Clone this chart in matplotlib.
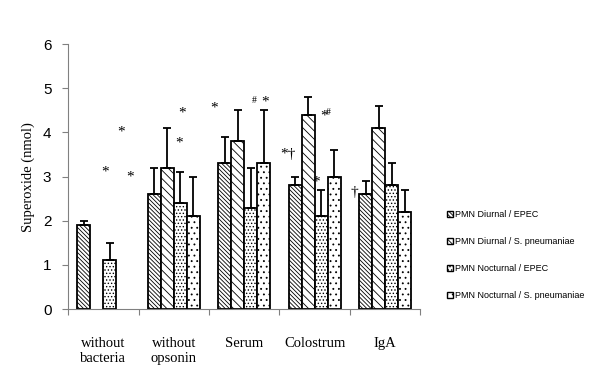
import numpy as np
import matplotlib.pyplot as plt
from matplotlib.patches import Patch

categories = ['without\nbacteria', 'without\nopsonin', 'Serum', 'Colostrum', 'IgA']
series = ['PMN Diurnal / EPEC', 'PMN Diurnal / S. pneumaniae',
          'PMN Nocturnal / EPEC', 'PMN Nocturnal / S. pneumaniae']
# nan = no bar in that group
values = [
    [1.9, 2.6, 3.3, 2.8, 2.6],
    [np.nan, 3.2, 3.8, 4.4, 4.1],
    [1.1, 2.4, 2.3, 2.1, 2.8],
    [np.nan, 2.1, 3.3, 3.0, 2.2],
]
errors = [
    [0.1, 0.6, 0.6, 0.2, 0.3],
    [np.nan, 0.9, 0.7, 0.4, 0.5],
    [0.4, 0.7, 0.9, 0.6, 0.5],
    [np.nan, 0.9, 1.2, 0.6, 0.5],
]
# significance marks: (x in category units, y value, text)
marks = [
    (0.52, 3.1, '*'), (0.75, 4.0, '*'), (0.88, 3.0, '*'),
    (1.58, 3.75, '*'), (1.62, 4.45, '*'),
    (2.07, 4.55, '*'), (2.65, 4.72, '#'), (2.8, 4.68, '*'),
    (3.12, 3.5, '*\u2020'), (3.63, 4.38, '*'), (3.7, 4.45, '#'),
    (3.52, 2.88, '*'), (4.07, 2.65, '\u2020'),
]
hatches = ['\\\\\\\\\\\\\\\\', '\\\\\\\\', '.....', '...']

plt.rcParams['hatch.linewidth'] = 0.6

fig = plt.figure(figsize=(5.97, 3.71), dpi=100)
ax = fig.add_axes([0.114, 0.167, 0.59, 0.714])

n = len(categories)
w = 0.185
x = np.arange(n) + 0.5
for i in range(4):
    pos = x + (i - 1.5) * w
    v = np.array(values[i])
    e = np.array(errors[i])
    ok = ~np.isnan(v)
    ax.bar(pos[ok], v[ok], w, facecolor='white', edgecolor='black',
           hatch=hatches[i], linewidth=1.3)
    ax.errorbar(pos[ok], v[ok], yerr=[np.zeros(ok.sum()), e[ok]], fmt='none',
                ecolor='black', elinewidth=1.3, capsize=3, capthick=1.3)

for mx, my, t in marks:
    fs = 7 if t == '#' else 11
    ax.text(mx, my, t, ha='center', va='center', fontsize=fs,
            family='Liberation Serif')

ax.set_xlim(0, n)
ax.set_ylim(0, 6)
ax.set_xticks(np.arange(n + 1))
ax.set_xticklabels([])
ax.set_xticks(x, minor=True)
ax.set_xticklabels(categories, minor=True, family='Liberation Serif', fontsize=10.5)
ax.tick_params(axis='x', which='minor', length=0, pad=20)
ax.tick_params(axis='x', which='major', length=4, color='grey')
ax.set_yticks(range(7))
ax.tick_params(axis='y', labelsize=11, length=4, color='grey', pad=8)
for lab in ax.get_yticklabels():
    lab.set_family('Liberation Sans')
ax.set_ylabel('Superoxide (nmol)', family='Liberation Serif', fontsize=10.5, labelpad=6)
for s in ['top', 'right']:
    ax.spines[s].set_visible(False)
for s in ['left', 'bottom']:
    ax.spines[s].set_color('grey')

handles = [Patch(facecolor='white', edgecolor='black', hatch=h) for h in hatches]
fig.legend(handles, series, loc='upper left', bbox_to_anchor=(0.735, 0.455),
           frameon=False, handlelength=0.7, handleheight=0.7,
           handletextpad=0.2, labelspacing=2.0, prop={'family': 'Liberation Sans', 'size': 6.5})

fig.savefig('out.png', dpi=100)
